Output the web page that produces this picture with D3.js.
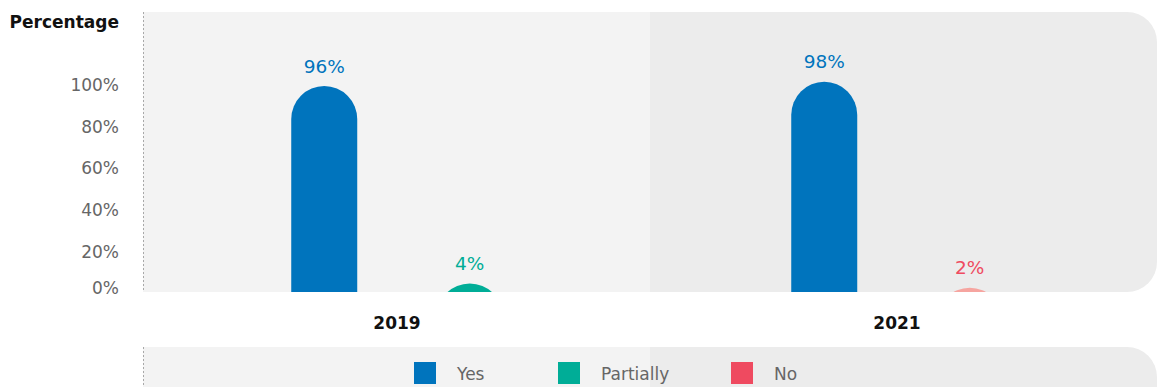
<!DOCTYPE html>
<html>
<head>
<meta charset="utf-8">
<script src="https://cdn.jsdelivr.net/npm/d3@7"></script>
<style>
  html, body { margin: 0; padding: 0; background: #fff; }
  svg { display: block; font-family: "DejaVu Sans", "Open Sans", sans-serif; }
</style>
</head>
<body>
<svg id="chart" width="1159" height="387"></svg>
<script>
// Survey answers per year (percent)
const years = ["2019", "2021"];
const seriesNames = ["Yes", "Partially", "No"];
const yesValues = [96, 98];
const partiallyValues = [4, 0];
const noValues = [0, 2];
const tickValues = [0, 20, 40, 60, 80, 100];
const tickLabels = ["0%", "20%", "40%", "60%", "80%", "100%"];

const seriesColor = { Yes: "#0074bd", Partially: "#00ad97", No: "#ef4a60" };
const barFill = { Yes: "#0074bd", Partially: "#00ad97", No: "#f6a5a0" };

const valuesBySeries = { Yes: yesValues, Partially: partiallyValues, No: noValues };

const svg = d3.select("#chart");

// plot frame
const plot = { left: 143, right: 1157, top: 12, bottom: 292, split: 650, r: 30 };

const x0 = d3.scaleBand().domain(years).range([147, 1147]);
const y = d3.scaleLinear().domain([0, 100]).range([plot.bottom, 77.5]);
const yLabel = d3.scaleLinear().domain([0, 100]).range([293.5, 85]);

// backgrounds
svg.append("rect")
  .attr("x", plot.left).attr("y", plot.top)
  .attr("width", plot.right - plot.left).attr("height", plot.bottom - plot.top)
  .attr("rx", plot.r).attr("fill", "#ececec");
svg.append("rect")
  .attr("x", plot.left).attr("y", plot.top)
  .attr("width", plot.split - plot.left).attr("height", plot.bottom - plot.top)
  .attr("fill", "#f3f3f3");

svg.append("line")
  .attr("x1", plot.left + 0.5).attr("x2", plot.left + 0.5)
  .attr("y1", plot.top).attr("y2", plot.bottom)
  .attr("stroke", "#a8a8a8").attr("stroke-dasharray", "2,2");

// axis title
svg.append("text")
  .attr("x", 119).attr("y", 22)
  .attr("text-anchor", "end").attr("dominant-baseline", "central")
  .attr("font-weight", 700).attr("font-size", 17).attr("fill", "#111")
  .text("Percentage");

// y tick labels
svg.append("g").selectAll("text")
  .data(tickValues)
  .join("text")
  .attr("x", 119)
  .attr("y", d => Math.min(yLabel(d), 288))
  .attr("text-anchor", "end").attr("dominant-baseline", "central")
  .attr("font-size", 17).attr("fill", "#666")
  .text((d, i) => tickLabels[i]);

// bars
const defs = svg.append("defs");
defs.append("clipPath").attr("id", "plotClip")
  .append("rect")
  .attr("x", plot.left).attr("y", plot.top)
  .attr("width", plot.right - plot.left).attr("height", plot.bottom - plot.top);

const barW = 66;
const bars = svg.append("g").attr("clip-path", "url(#plotClip)");
const labels = svg.append("g");

years.forEach((yr, i) => {
  const present = seriesNames.filter(s => valuesBySeries[s][i] > 0);
  const x1 = d3.scalePoint().domain(present).range([0, x0.bandwidth()]).padding(1.218);
  const items = present.map(s => ({ s, v: valuesBySeries[s][i] }));

  bars.selectAll(null)
    .data(items)
    .join("rect")
    .attr("x", d => x0(yr) + x1(d.s) - barW / 2)
    .attr("y", d => y(d.v))
    .attr("width", barW)
    .attr("height", d => y(0) + 100 - y(d.v))
    .attr("rx", barW / 2)
    .attr("fill", d => barFill[d.s]);

  labels.selectAll(null)
    .data(items)
    .join("text")
    .attr("x", d => x0(yr) + x1(d.s))
    .attr("y", d => y(d.v) - 20)
    .attr("text-anchor", "middle").attr("dominant-baseline", "central")
    .attr("font-size", 18.5).attr("fill", d => seriesColor[d.s])
    .text(d => d.v + "%");
});

// category labels
svg.append("g").selectAll("text")
  .data(years)
  .join("text")
  .attr("x", d => x0(d) + x0.bandwidth() / 2)
  .attr("y", 323)
  .attr("text-anchor", "middle").attr("dominant-baseline", "central")
  .attr("font-weight", 700).attr("font-size", 17).attr("fill", "#111")
  .text(d => d);

// legend panel
const leg = { top: 347, bottom: 420 };
svg.append("rect")
  .attr("x", plot.left).attr("y", leg.top)
  .attr("width", plot.right - plot.left).attr("height", leg.bottom - leg.top)
  .attr("rx", plot.r).attr("fill", "#ececec");
svg.append("rect")
  .attr("x", plot.left).attr("y", leg.top)
  .attr("width", plot.split - plot.left).attr("height", leg.bottom - leg.top)
  .attr("fill", "#f3f3f3");
svg.append("line")
  .attr("x1", plot.left + 0.5).attr("x2", plot.left + 0.5)
  .attr("y1", leg.top).attr("y2", 387)
  .attr("stroke", "#a8a8a8").attr("stroke-dasharray", "2,2");

const legendX = d3.scaleOrdinal().domain(seriesNames).range([414, 558, 731]);
const legItems = svg.append("g").selectAll("g")
  .data(seriesNames)
  .join("g")
  .attr("transform", d => `translate(${legendX(d)},362)`);
legItems.append("rect")
  .attr("width", 22).attr("height", 22)
  .attr("fill", d => seriesColor[d]);
legItems.append("text")
  .attr("x", 43).attr("y", 11.5)
  .attr("dominant-baseline", "central")
  .attr("font-size", 17).attr("fill", "#666")
  .text(d => d);
</script>
</body>
</html>
